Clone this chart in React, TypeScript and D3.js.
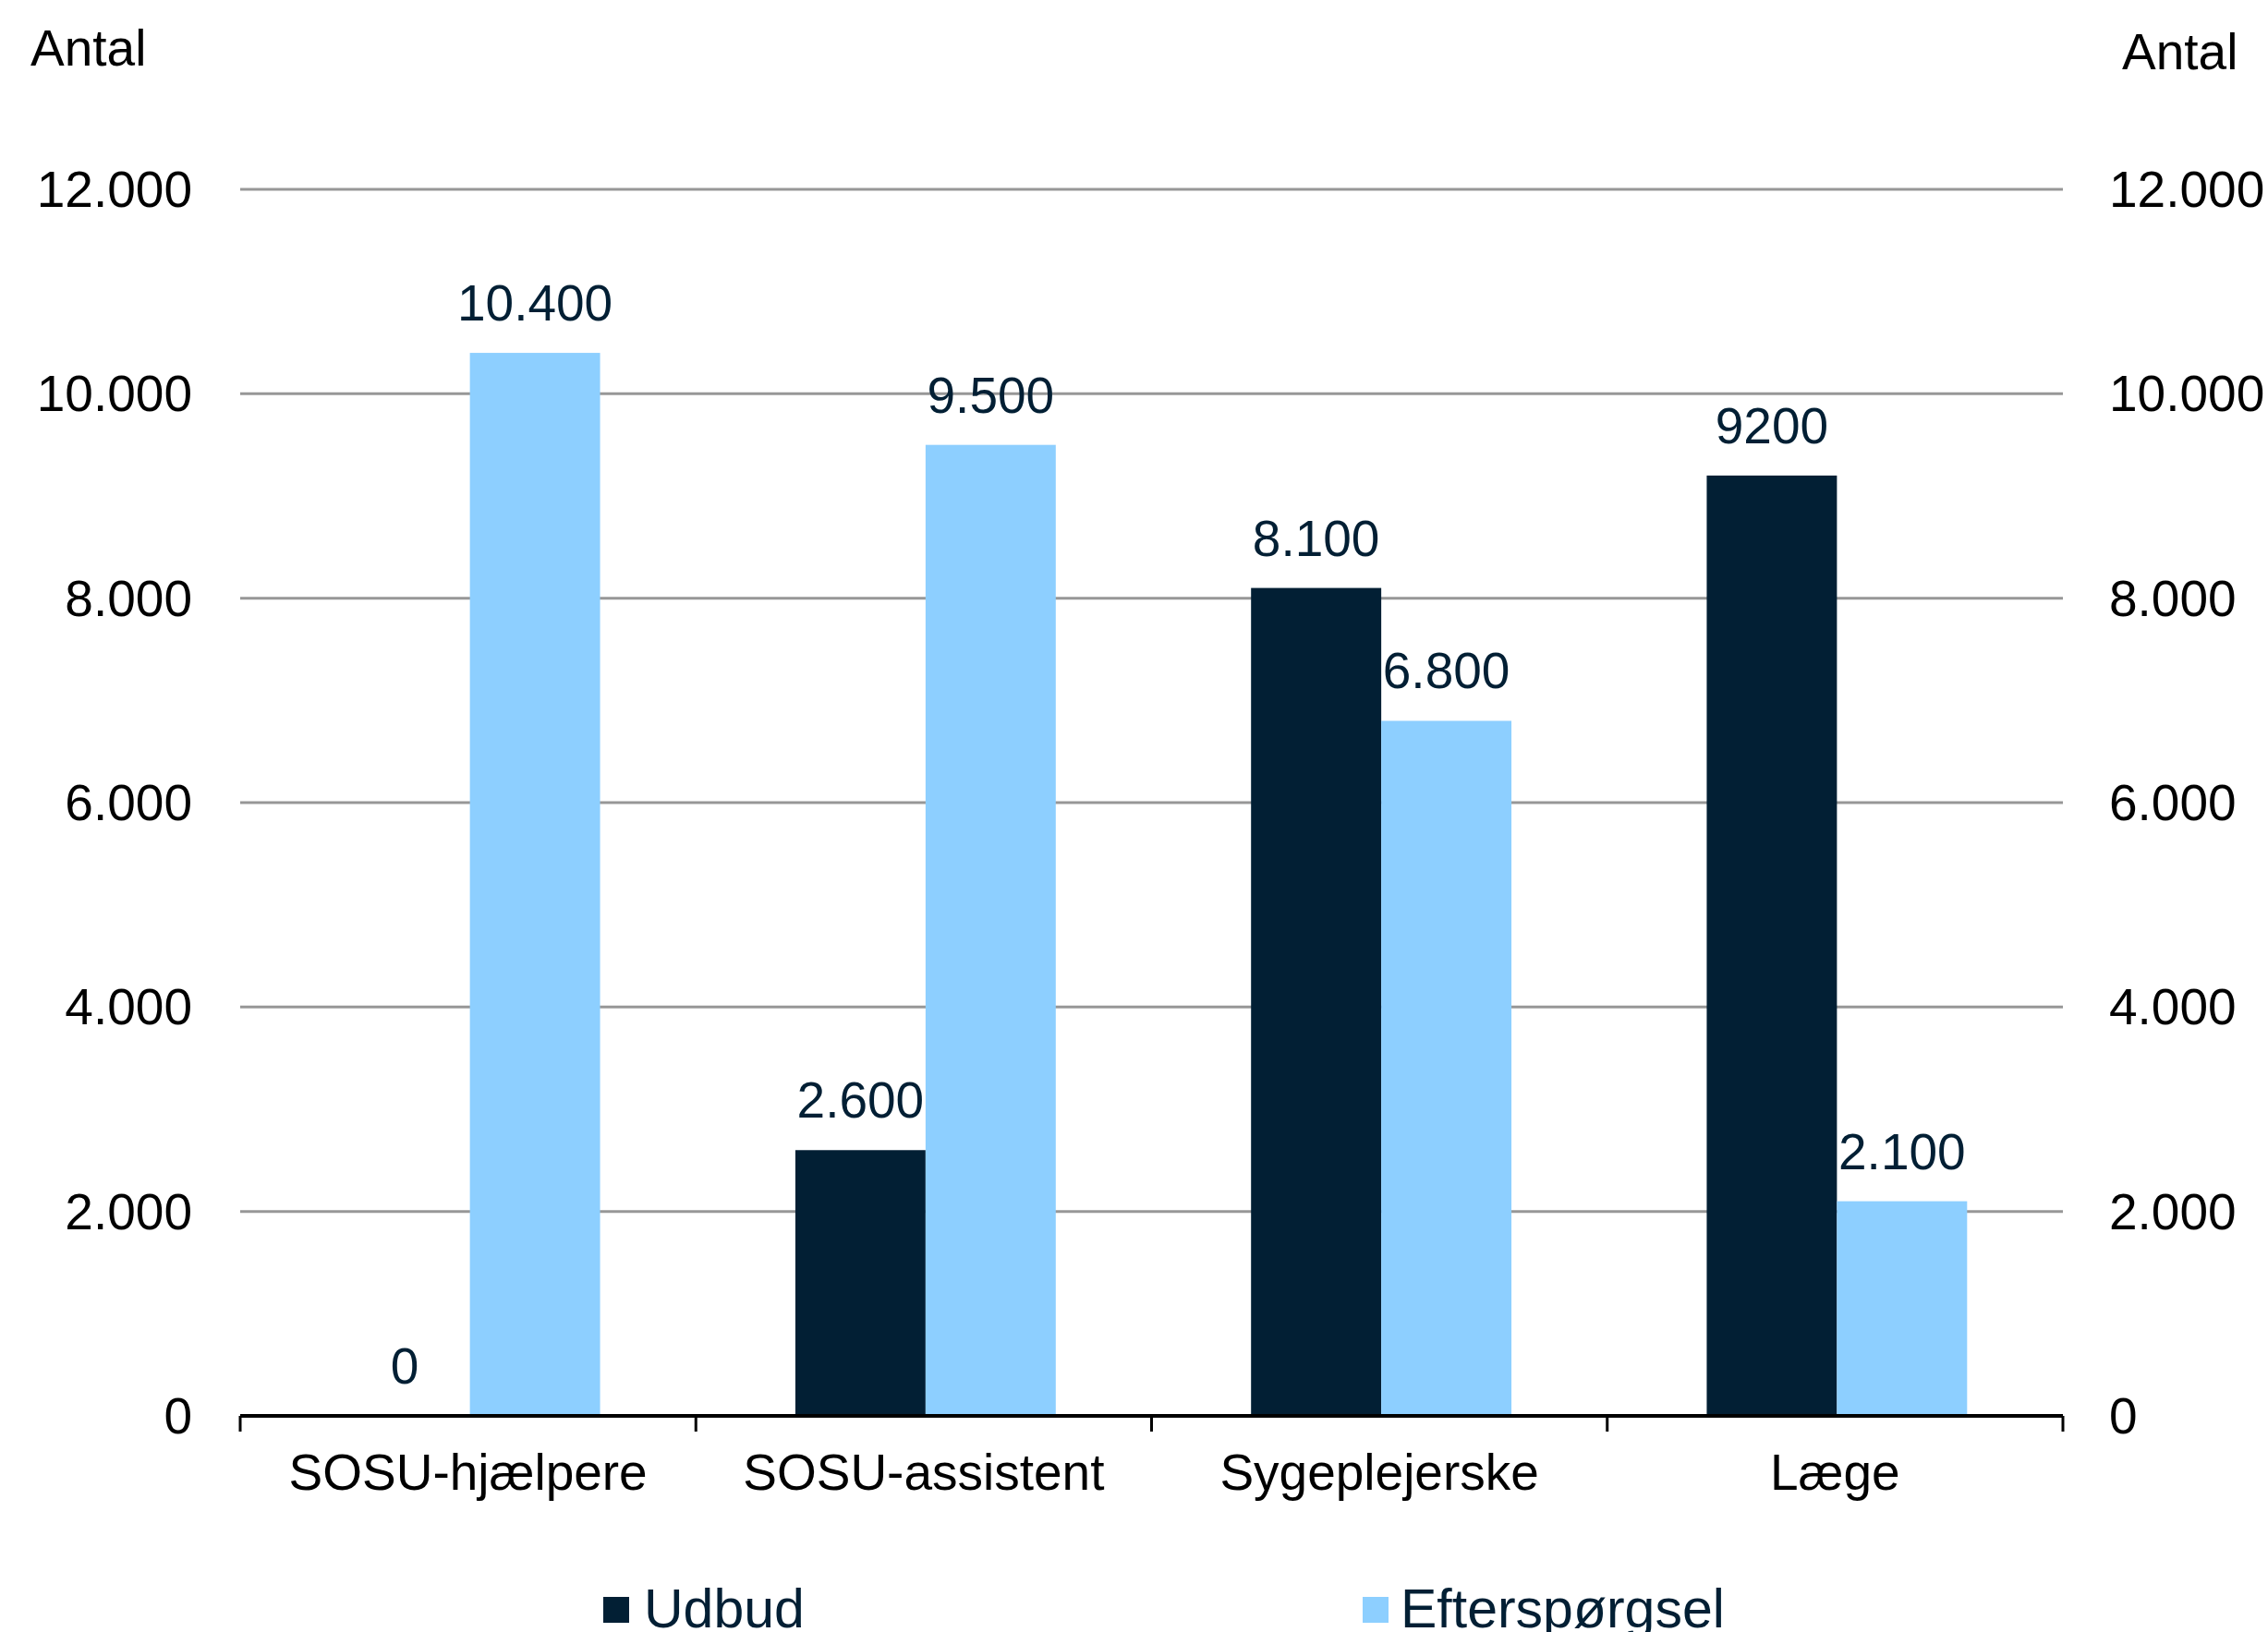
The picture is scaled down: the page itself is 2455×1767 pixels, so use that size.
import React from "react";
import * as d3 from "d3";

const categories = ["SOSU-hjælpere", "SOSU-assistent", "Sygeplejerske", "Læge"];
const seriesNames = ["Udbud", "Efterspørgsel"];
const udbud = [0, 2600, 8100, 9200];
const efterspoergsel = [10400, 9500, 6800, 2100];
const udbudLabels = ["0", "2.600", "8.100", "9200"];
const efterLabels = ["10.400", "9.500", "6.800", "2.100"];
const yTicks = [0, 2000, 4000, 6000, 8000, 10000, 12000];
const yTickLabels = ["0", "2.000", "4.000", "6.000", "8.000", "10.000", "12.000"];

const W = 2455;
const H = 1767;
const colors = ["#021f34", "#8dcfff"];
const FONT = "'Liberation Sans', Arial, sans-serif";

export default function App() {
  const x0 = d3.scaleBand<string>().domain(categories).range([260, 2233]).padding(0);
  const x1 = d3
    .scaleBand<string>()
    .domain(seriesNames)
    .range([0, x0.bandwidth()])
    .paddingInner(0)
    .paddingOuter(0.75);
  const y = d3.scaleLinear().domain([0, 12000]).range([1533, 205]);

  const series = [
    { name: seriesNames[0], values: udbud, labels: udbudLabels, color: colors[0] },
    { name: seriesNames[1], values: efterspoergsel, labels: efterLabels, color: colors[1] },
  ];

  const [xl, xr] = x0.range();
  const boundaries = [...categories.map((c) => x0(c)!), xr];

  return (
    <svg
      width={W}
      height={H}
      style={{ position: "absolute", left: 0, top: 0, background: "#fff" }}
      fontFamily={FONT}
    >
      <rect x={0} y={0} width={W} height={H} fill="#fff" />
      {yTicks
        .filter((t) => t !== 0)
        .map((t) => (
          <line key={t} x1={xl} x2={xr} y1={y(t)} y2={y(t)} stroke="#979797" strokeWidth={3} />
        ))}
      {series.map((s) =>
        categories.map((c, i) => (
          <rect
            key={s.name + c}
            x={x0(c)! + x1(s.name)! + 2}
            y={y(s.values[i])}
            width={x1.bandwidth()}
            height={y(0) - y(s.values[i])}
            fill={s.color}
          />
        ))
      )}
      {series.map((s) =>
        categories.map((c, i) => (
          <text
            key={"l" + s.name + c}
            x={x0(c)! + x1(s.name)! + 2 + x1.bandwidth() / 2}
            y={y(s.values[i]) - 35}
            textAnchor="middle"
            fontSize={55}
            fill="#021f34"
          >
            {s.labels[i]}
          </text>
        ))
      )}
      <line x1={xl} x2={xr} y1={y(0)} y2={y(0)} stroke="#000" strokeWidth={4} />
      {boundaries.map((b, i) => (
        <line key={"t" + i} x1={b} x2={b} y1={y(0)} y2={y(0) + 17} stroke="#000" strokeWidth={3} />
      ))}
      {categories.map((c) => (
        <text key={"c" + c} x={x0(c)! + x0.bandwidth() / 2} y={1613} textAnchor="middle" fontSize={55} fill="#000">
          {c}
        </text>
      ))}
      {yTicks.map((t, i) => (
        <text key={"yl" + t} x={208} y={y(t) + 19} textAnchor="end" fontSize={55} fill="#000">
          {yTickLabels[i]}
        </text>
      ))}
      {yTicks.map((t, i) => (
        <text key={"yr" + t} x={2283} y={y(t) + 19} textAnchor="start" fontSize={55} fill="#000">
          {yTickLabels[i]}
        </text>
      ))}
      <text x={33} y={71} fontSize={55} fill="#000">
        Antal
      </text>
      <text x={2297} y={75} fontSize={55} fill="#000">
        Antal
      </text>
      <rect x={653} y={1729} width={28} height={28} fill={colors[0]} />
      <text x={697} y={1762} fontSize={59} fill="#021f34">
        {seriesNames[0]}
      </text>
      <rect x={1475} y={1729} width={28} height={28} fill={colors[1]} />
      <text x={1516} y={1762} fontSize={59} fill="#021f34">
        {seriesNames[1]}
      </text>
    </svg>
  );
}
